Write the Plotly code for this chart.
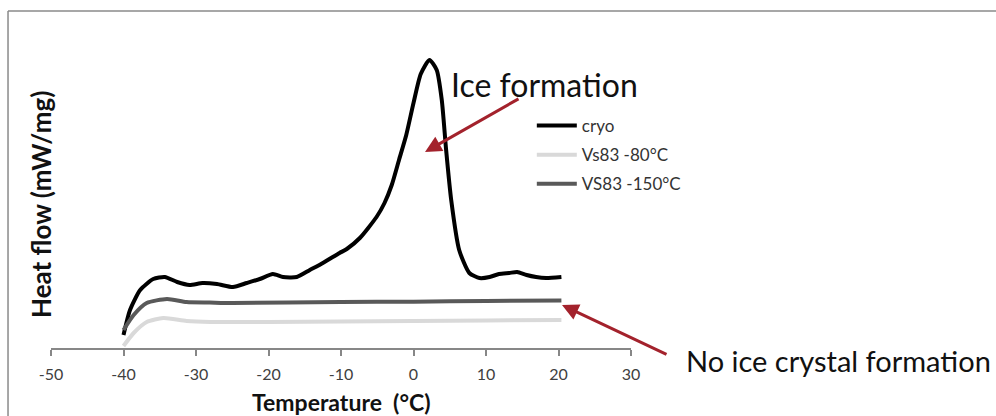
import plotly.graph_objects as go

# ---- data ----
cryo_x = [-40.0, -39.1, -37.7, -35.9, -34.3, -32.6, -30.9, -29.1, -27.1, -24.9,
          -23.0, -21.2, -19.4, -18.0, -16.1, -14.3, -12.5, -10.2, -9.2, -7.4,
          -5.1, -4.0, -3.0, -2.0, -1.0, 0.0, 1.0, 2.2, 3.2, 3.9, 4.5, 5.2, 6.3,
          7.7, 9.1, 10.5, 11.8, 13.2, 14.3, 15.6, 16.9, 18.3, 20.4]
cryo_y = [0.13, 0.38, 0.58, 0.69, 0.71, 0.66, 0.63, 0.65, 0.64, 0.61,
          0.65, 0.69, 0.74, 0.71, 0.71, 0.78, 0.85, 0.95, 0.99, 1.10,
          1.31, 1.45, 1.63, 1.88, 2.13, 2.45, 2.74, 2.88, 2.78, 2.48, 1.98, 1.48, 0.98,
          0.75, 0.70, 0.71, 0.74, 0.75, 0.76, 0.73, 0.71, 0.70, 0.71]

vs80_x = [-40.0, -38.6, -36.8, -34.5, -31.3, -28.0, -20.0, -10.0, 0.0, 10.0, 20.4]
vs80_y = [0.02, 0.15, 0.26, 0.30, 0.27, 0.26, 0.26, 0.265, 0.27, 0.275, 0.28]

vs150_x = [-40.0, -38.6, -36.8, -34.0, -31.3, -28.1, -25.0, -10.0, 0.0, 10.0, 20.4]
vs150_y = [0.18, 0.33, 0.45, 0.49, 0.46, 0.455, 0.45, 0.46, 0.463, 0.47, 0.475]

x_ticks = [-50, -40, -30, -20, -10, 0, 10, 20, 30]
series_names = ["cryo", "Vs83 -80°C", "VS83 -150°C"]

FONT = "Lato, 'Open Sans', sans-serif"
ARROW = "#a3222c"

fig = go.Figure()
fig.add_trace(go.Scatter(x=cryo_x, y=cryo_y, mode="lines", name=series_names[0],
                         legendgroup="a", line=dict(color="#000000", width=4, shape="spline", smoothing=0.6)))
fig.add_trace(go.Scatter(x=vs80_x, y=vs80_y, mode="lines", name=series_names[1],
                         legendgroup="b", line=dict(color="#d9d9d9", width=4, shape="spline", smoothing=0.6)))
fig.add_trace(go.Scatter(x=vs150_x, y=vs150_y, mode="lines", name=series_names[2],
                         legendgroup="c", line=dict(color="#595959", width=4, shape="spline", smoothing=0.6)))

fig.update_layout(
    width=996, height=416,
    margin=dict(l=51, r=365, t=48, b=68),
    paper_bgcolor="white", plot_bgcolor="white",
    font=dict(family=FONT, color="#333333"),
    showlegend=True,
    legend=dict(x=0.829, y=0.80, xanchor="left", yanchor="top",
                font=dict(size=17, color="#333333", family=FONT),
                bgcolor="rgba(0,0,0,0)", tracegroupgap=4,
                itemwidth=40),
    xaxis=dict(range=[-50, 30], tickvals=x_ticks, ticktext=[str(t) for t in x_ticks],
               showgrid=False, zeroline=False, showline=True, linecolor="#878787",
               linewidth=1.5, ticks="outside", ticklen=6, tickcolor="#878787", tickwidth=1.5,
               tickfont=dict(size=16, color="#404040", family=FONT), ticklabelstandoff=5,
               fixedrange=True),
    yaxis=dict(range=[0, 3.0], showgrid=False, zeroline=False, showline=False,
               showticklabels=False, ticks="", fixedrange=True),
)

# frame (left and top edges visible in the reference)
fig.add_shape(type="line", xref="paper", yref="paper", x0=-0.0741, x1=-0.0741, y0=1.1233, y1=-0.25,
              line=dict(color="#8a8a8a", width=1.5))
fig.add_shape(type="line", xref="paper", yref="paper", x0=-0.0741, x1=1.65, y0=1.1233, y1=1.1233,
              line=dict(color="#8a8a8a", width=1.5))

# axis titles
fig.add_annotation(xref="paper", yref="paper", x=(341 - 51) / 580, y=(348 - 402) / 300,
                   text="<b>Temperature  (°C)</b>", showarrow=False,
                   font=dict(size=23, color="#111111", family=FONT), xanchor="center", yanchor="middle")
fig.add_annotation(xref="paper", yref="paper", x=(41 - 51) / 580, y=(348 - 205) / 300,
                   text="<b>Heat flow (mW/mg)</b>", showarrow=False, textangle=-90,
                   font=dict(size=26, color="#111111", family=FONT), xanchor="center", yanchor="middle")

# callouts
fig.add_annotation(xref="paper", yref="paper", x=(544 - 51) / 580, y=(348 - 84) / 300,
                   text="Ice formation", showarrow=False,
                   font=dict(size=32, color="#111111", family=FONT), xanchor="center", yanchor="middle")
fig.add_annotation(xref="paper", yref="paper", x=(838 - 51) / 580, y=(348 - 360) / 300,
                   text="No ice crystal formation", showarrow=False,
                   font=dict(size=29, color="#111111", family=FONT), xanchor="center", yanchor="middle")

# arrows
fig.add_annotation(xref="paper", yref="paper", x=(425 - 51) / 580, y=(348 - 152) / 300,
                   ax=95, ay=-54, text="", showarrow=True, arrowhead=2, arrowsize=1.1,
                   arrowwidth=3, arrowcolor=ARROW)
fig.add_annotation(xref="paper", yref="paper", x=(562 - 51) / 580, y=(348 - 305) / 300,
                   ax=106, ay=50, text="", showarrow=True, arrowhead=2, arrowsize=1.1,
                   arrowwidth=3, arrowcolor=ARROW)

fig.write_html("out.html", config={"displayModeBar": False},
               post_script="document.body.style.margin='0';document.body.style.overflow='hidden';")
